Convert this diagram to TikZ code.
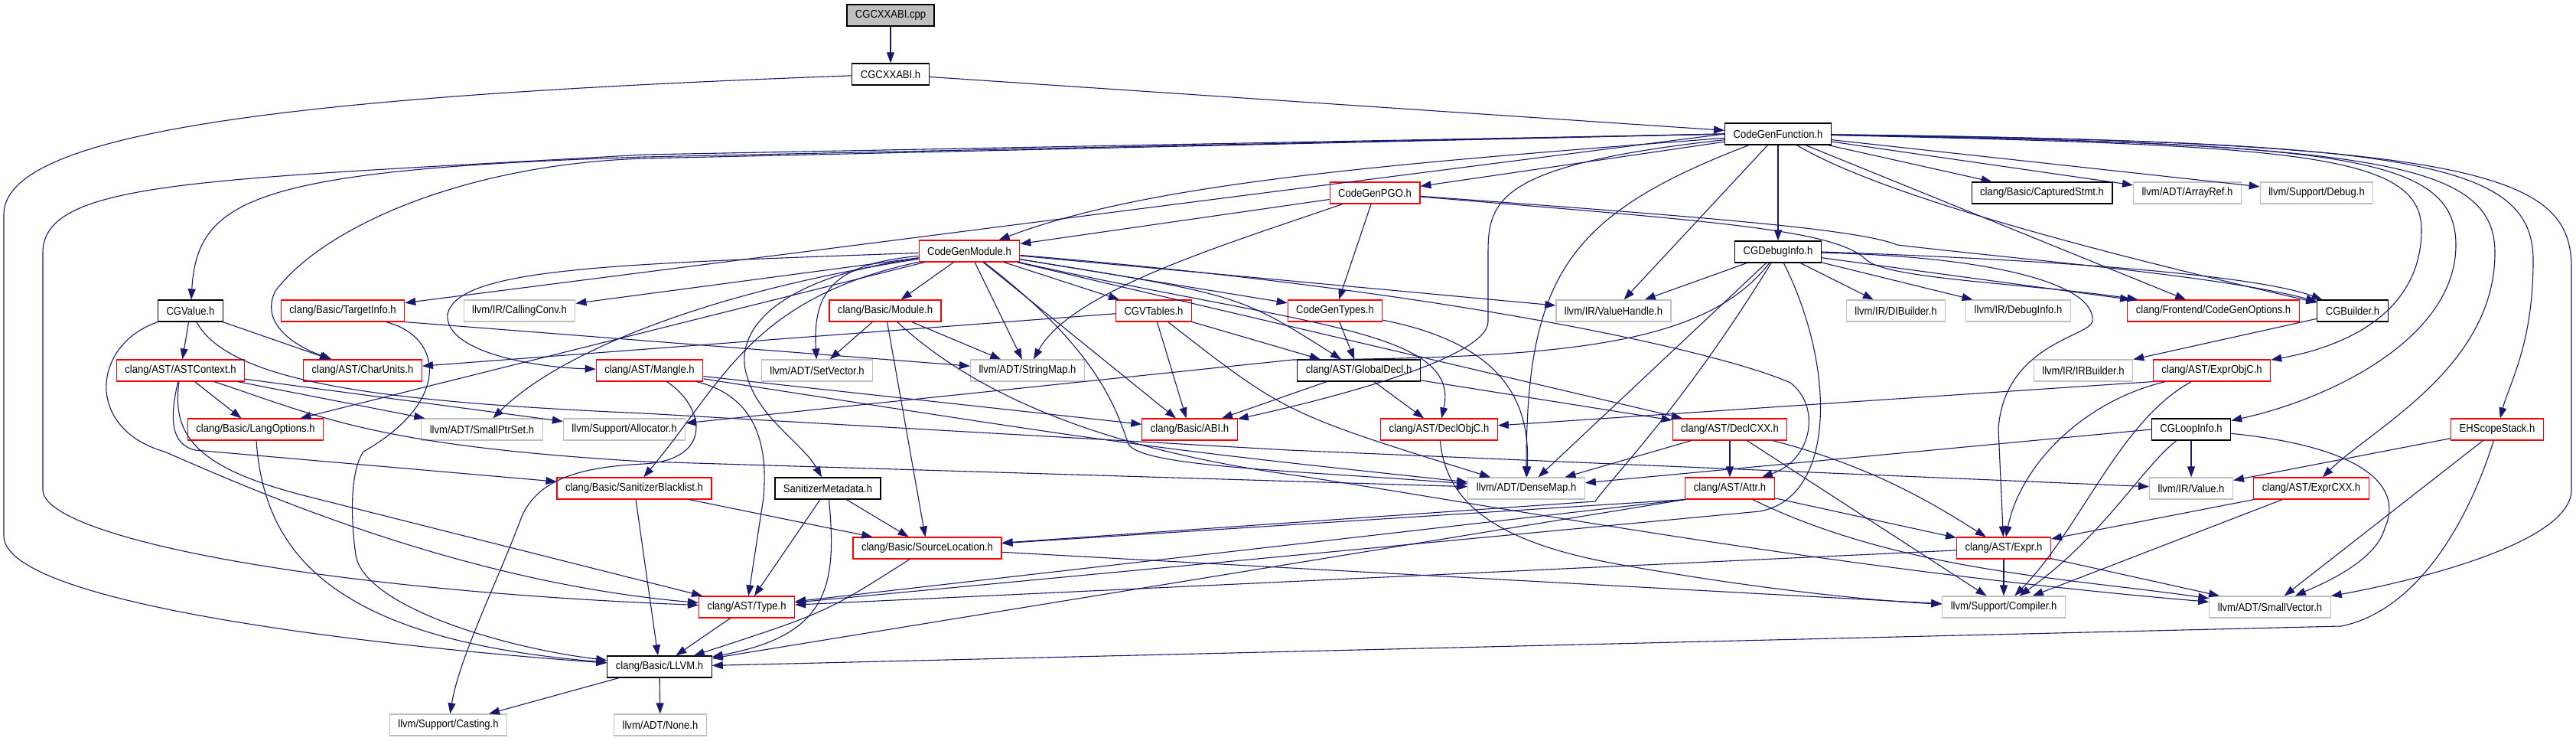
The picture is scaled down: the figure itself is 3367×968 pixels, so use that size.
\documentclass[tikz,border=0pt]{standalone}
\usepackage{fontspec}
\setmainfont{Liberation Sans}[FakeStretch=0.9]
\usetikzlibrary{arrows.meta}

\definecolor{edgeblue}{HTML}{191970}
\definecolor{boxred}{HTML}{FF0000}
\definecolor{boxgray}{HTML}{BFBFBF}

\begin{document}
\begin{tikzpicture}[x=1pt, y=-1pt,
    hdr/.style={draw, line width=1.2pt, fill=white, inner xsep=11pt, inner ysep=0pt,
        minimum height=28pt, font=\fontsize{14.5}{16}\selectfont},
    doc/.style={hdr, draw=black},
    trunc/.style={hdr, draw=boxred},
    ext/.style={hdr, draw=boxgray},
    dep/.style={draw=edgeblue, line width=1.1pt, -{Triangle[length=14pt, width=10pt]}}]

    % Page size and background
    \fill[white] (0,0) rectangle (3367,968);
    \useasboundingbox (0,0) rectangle (3367,968);

    % Source file and the first headers
    \node[doc, fill=boxgray] (cpp) at (1164,20) {CGCXXABI.cpp};
    \node[doc] (abih) at (1164,97) {CGCXXABI.h};
    \node[doc] (cgf) at (2324,175) {CodeGenFunction.h};

    % Headers of CodeGenFunction.h
    \node[trunc] (pgo) at (1797,252) {CodeGenPGO.h};
    \node[doc] (capt) at (2669,252) {clang/Basic/CapturedStmt.h};
    \node[ext] (aref) at (2859,252) {llvm/ADT/ArrayRef.h};
    \node[ext] (dbg) at (3028,252) {llvm/Support/Debug.h};
    \node[trunc] (cgm) at (1267,328) {CodeGenModule.h};
    \node[doc] (cgdi) at (2324,329) {CGDebugInfo.h};

    % Row 5
    \node[doc] (cgval) at (249,406) {CGValue.h};
    \node[trunc] (tinfo) at (448,406) {clang/Basic/TargetInfo.h};
    \node[ext] (cconv) at (679,406) {llvm/IR/CallingConv.h};
    \node[trunc] (bmod) at (1157,406) {clang/Basic/Module.h};
    \node[trunc] (vtbl) at (1508,406) {CGVTables.h};
    \node[trunc] (types) at (1745,406) {CodeGenTypes.h};
    \node[ext] (vh) at (2109,406) {llvm/IR/ValueHandle.h};
    \node[ext] (dib) at (2478,406) {llvm/IR/DIBuilder.h};
    \node[ext] (dinfo) at (2638,406) {llvm/IR/DebugInfo.h};
    \node[trunc] (cgopt) at (2893,406) {clang/Frontend/CodeGenOptions.h};
    \node[doc] (bld) at (3075,406) {CGBuilder.h};

    % Row 6
    \node[trunc] (astctx) at (236,484) {clang/AST/ASTContext.h};
    \node[trunc] (cu) at (474,484) {clang/AST/CharUnits.h};
    \node[trunc] (mangle) at (849,484) {clang/AST/Mangle.h};
    \node[ext] (setv) at (1068,484) {llvm/ADT/SetVector.h};
    \node[ext] (smap) at (1343,484) {llvm/ADT/StringMap.h};
    \node[doc] (gdecl) at (1776,484) {clang/AST/GlobalDecl.h};
    \node[ext] (irb) at (2723,484) {llvm/IR/IRBuilder.h};
    \node[trunc] (eobjc) at (2891,484) {clang/AST/ExprObjC.h};

    % Row 7
    \node[trunc] (lopt) at (334,561) {clang/Basic/LangOptions.h};
    \node[ext] (sps) at (630,561) {llvm/ADT/SmallPtrSet.h};
    \node[ext] (alloc) at (816,561) {llvm/Support/Allocator.h};
    \node[trunc] (abi) at (1555,561) {clang/Basic/ABI.h};
    \node[trunc] (dobjc) at (1881,561) {clang/AST/DeclObjC.h};
    \node[trunc] (dcxx) at (2261,561) {clang/AST/DeclCXX.h};
    \node[doc] (loop) at (2864,561) {CGLoopInfo.h};
    \node[trunc] (ehs) at (3264,561) {EHScopeStack.h};

    % Row 8
    \node[trunc] (sbl) at (829,638) {clang/Basic/SanitizerBlacklist.h};
    \node[doc] (smd) at (1082,638) {SanitizerMetadata.h};
    \node[ext] (dmap) at (1995,638) {llvm/ADT/DenseMap.h};
    \node[trunc] (attr) at (2261,638) {clang/AST/Attr.h};
    \node[ext] (val) at (2864,638) {llvm/IR/Value.h};
    \node[trunc] (ecxx) at (3021,638) {clang/AST/ExprCXX.h};

    % Bottom rows
    \node[trunc] (sloc) at (1212,716) {clang/Basic/SourceLocation.h};
    \node[trunc] (expr) at (2619,716) {clang/AST/Expr.h};
    \node[trunc] (type) at (976,793) {clang/AST/Type.h};
    \node[ext] (comp) at (2619,793) {llvm/Support/Compiler.h};
    \node[ext] (svec) at (2967,793) {llvm/ADT/SmallVector.h};
    \node[doc] (llvmh) at (862,871) {clang/Basic/LLVM.h};
    \node[ext] (cast) at (586,947) {llvm/Support/Casting.h};
    \node[ext] (none) at (863,947) {llvm/ADT/None.h};

    % CGCXXABI files
    \draw[dep] (cpp) -- (abih);
    \draw[dep] (abih) -- (cgf);
    \draw[dep] (abih) .. controls (400,125) and (5,170) .. (5,280) -- (5,700) .. controls (5,790) and (500,845) .. (llvmh);

    % CodeGenFunction.h, to the left
    \draw[dep] (cgf.west) -- (842,205) .. controls (330,222) and (258,260) .. (cgval);
    \draw[dep] (cgf.west) -- (842,202) .. controls (270,235) and (56,235) .. (56,330) -- (56,640) .. controls (56,700) and (400,770) .. (type);
    \draw[dep] (cgf.west) -- (842,207) .. controls (600,215) and (420,300) .. (360,380) .. controls (340,420) and (380,450) .. (cu);
    \draw[dep] (cgf.west) -- (tinfo);
    \draw[dep] (cgf) .. controls (1800,215) and (1500,240) .. (cgm);
    \draw[dep] (cgf) -- (pgo);
    \draw[dep] (cgf) .. controls (1960,215) and (1945,260) .. (1945,330) -- (1945,420) .. controls (1945,470) and (1720,525) .. (abi);
    \draw[dep] (cgf) .. controls (2050,280) and (1995,360) .. (dmap);
    \draw[dep] (cgf) -- (vh);
    \draw[dep] (cgf) -- (cgdi);

    % CodeGenFunction.h, to the right
    \draw[dep] (cgf) -- (capt);
    \draw[dep] (cgf) -- (aref);
    \draw[dep] (cgf) -- (dbg);
    \draw[dep] (cgf) .. controls (2450,250) and (2700,320) .. (bld);
    \draw[dep] (cgf) -- (cgopt);
    \draw[dep] (cgf) .. controls (3000,190) and (3165,200) .. (3165,300) .. controls (3165,400) and (3080,450) .. (eobjc);
    \draw[dep] (cgf) .. controls (3050,188) and (3210,200) .. (3210,320) .. controls (3210,440) and (3050,520) .. (loop);
    \draw[dep] (cgf) .. controls (3100,188) and (3261,210) .. (3261,330) .. controls (3261,480) and (3100,560) .. (ecxx);
    \draw[dep] (cgf) .. controls (3150,185) and (3311,210) .. (3311,340) .. controls (3311,450) and (3280,500) .. (ehs);
    \draw[dep] (cgf) .. controls (3250,185) and (3361,230) .. (3361,350) -- (3361,640) .. controls (3361,710) and (3150,760) .. (svec);

    % CodeGenPGO.h
    \draw[dep] (pgo) -- (cgm);
    \draw[dep] (pgo) -- (types);
    \draw[dep] (pgo) .. controls (1600,320) and (1400,380) .. (smap);
    \draw[dep] (pgo) .. controls (2250,290) and (2400,300) .. (2440,340) .. controls (2470,365) and (2650,370) .. (cgopt);
    \draw[dep] (pgo) .. controls (2250,285) and (2430,300) .. (2480,320) .. controls (2650,340) and (2900,360) .. (bld);

    % CodeGenModule.h
    \draw[dep] (cgm) -- (cconv);
    \draw[dep] (cgm) .. controls (800,345) and (600,350) .. (585,410) .. controls (580,460) and (700,480) .. (mangle);
    \draw[dep] (cgm) -- (lopt);
    \draw[dep] (cgm) .. controls (900,385) and (720,470) .. (sps);
    \draw[dep] (cgm) -- (bmod);
    \draw[dep] (cgm) .. controls (1090,345) and (1062,380) .. (setv);
    \draw[dep] (cgm) -- (smap);
    \draw[dep] (cgm) -- (vtbl);
    \draw[dep] (cgm) -- (types);
    \draw[dep] (cgm) -- (abi);
    \draw[dep] (cgm) .. controls (1440,460) and (1460,540) .. (1475,580) .. controls (1490,610) and (1700,615) .. (dmap);
    \draw[dep] (cgm) .. controls (1620,385) .. (gdecl);
    \draw[dep] (cgm) .. controls (1700,425) and (1910,430) .. (dobjc);
    \draw[dep] (cgm) -- (dcxx);
    \draw[dep] (cgm) -- (vh);
    \draw[dep] (cgm) .. controls (1900,380) and (2250,460) .. (2340,500) .. controls (2380,530) and (2370,600) .. (attr);
    \draw[dep] (cgm) .. controls (1000,365) and (960,440) .. (976,490) .. controls (990,545) and (1050,580) .. (smd);
    \draw[dep] (cgm) .. controls (980,390) and (945,500) .. (sbl);

    % CGDebugInfo.h
    \draw[dep] (cgdi) -- (vh);
    \draw[dep] (cgdi) -- (dib);
    \draw[dep] (cgdi) -- (dinfo);
    \draw[dep] (cgdi) -- (cgopt);
    \draw[dep] (cgdi.east) .. controls (2700,340) and (2950,360) .. (bld);
    \draw[dep] (cgdi) -- (dmap);
    \draw[dep] (cgdi) .. controls (2200,530) and (2110,620) .. (2085,655) -- (sloc);
    \draw[dep] (cgdi) .. controls (2400,480) and (2400,650) .. (2300,668) -- (type);
    \draw[dep] (cgdi) .. controls (2600,335) and (2740,370) .. (2735,420) .. controls (2730,440) and (2620,450) .. (2612,560) -- (expr);
    \draw[dep] (cgdi) .. controls (2230,450) and (2050,468) .. (1690,470) -- (alloc);

    % CGValue.h and clang/AST/ASTContext.h
    \draw[dep] (cgval) -- (astctx);
    \draw[dep] (cgval) -- (cu);
    \draw[dep] (cgval) .. controls (300,500) and (500,525) .. (842,540) -- (1684,588) -- (val);
    \draw[dep] (cgval) .. controls (120,450) and (110,560) .. (215,590) .. controls (330,640) and (600,760) .. (type);
    \draw[dep] (astctx) -- (lopt);
    \draw[dep] (astctx) -- (sps);
    \draw[dep] (astctx) -- (alloc);
    \draw[dep] (astctx) .. controls (222,545) and (222,580) .. (255,588) -- (sbl);
    \draw[dep] (astctx) .. controls (225,565) and (250,610) .. (400,648) -- (type);
    \draw[dep] (astctx) .. controls (420,545) and (490,582) .. (842,603) -- (dmap);

    % TargetInfo.h, LangOptions.h, Mangle.h
    \draw[dep] (tinfo.south east) -- (smap);
    \draw[dep] (tinfo) .. controls (580,440) and (590,525) .. (475,590) .. controls (455,620) and (460,690) .. (465,725) .. controls (475,790) and (650,845) .. (llvmh);
    \draw[dep] (lopt) .. controls (345,720) and (430,835) .. (llvmh);
    \draw[dep] (mangle) .. controls (1000,520) and (1002,600) .. (998,650) -- (type);
    \draw[dep] (mangle) -- (abi);
    \draw[dep] (mangle) .. controls (1500,585) .. (dmap);
    \draw[dep] (mangle) .. controls (920,530) and (935,600) .. (842,606) .. controls (760,610) and (700,625) .. (680,680) .. controls (650,760) and (600,860) .. (cast);

    % clang/Basic/Module.h, CGVTables.h, CodeGenTypes.h, GlobalDecl.h
    \draw[dep] (bmod) -- (setv);
    \draw[dep] (bmod) -- (smap);
    \draw[dep] (bmod) -- (sloc);
    \draw[dep] (bmod) .. controls (1280,520) and (1450,588) .. (1700,622) .. controls (1950,660) and (2400,745) .. (svec);
    \draw[dep] (vtbl) -- (cu);
    \draw[dep] (vtbl) -- (gdecl);
    \draw[dep] (vtbl) -- (abi);
    \draw[dep] (vtbl) .. controls (1680,540) .. (dmap);
    \draw[dep] (types) -- (gdecl);
    \draw[dep] (types) .. controls (1970,450) and (2000,530) .. (dmap);
    \draw[dep] (gdecl) -- (dcxx);
    \draw[dep] (gdecl) -- (dobjc);
    \draw[dep] (gdecl) -- (abi);

    % Declarations and attributes
    \draw[dep] (dobjc) .. controls (1890,660) and (1960,710) .. (2120,738) .. controls (2300,770) and (2450,785) .. (comp);
    \draw[dep] (dcxx) -- (attr);
    \draw[dep] (dcxx) -- (dmap);
    \draw[dep] (dcxx) .. controls (2450,610) and (2530,660) .. (expr);
    \draw[dep] (dcxx) -- (comp);
    \draw[dep] (attr) -- (expr);
    \draw[dep] (attr.south west) -- (sloc);
    \draw[dep] (attr.south west) -- (type);
    \draw[dep] (attr.south west) -- (llvmh);
    \draw[dep] (attr) .. controls (2480,745) and (2700,755) .. (svec);

    % Expressions
    \draw[dep] (expr) -- (type);
    \draw[dep] (expr) -- (comp);
    \draw[dep] (expr) -- (svec);
    \draw[dep] (ecxx) -- (expr);
    \draw[dep] (ecxx) -- (comp);
    \draw[dep] (eobjc.south west) -- (dobjc);
    \draw[dep] (eobjc) .. controls (2720,525) and (2640,610) .. (expr);
    \draw[dep] (eobjc) .. controls (2770,550) and (2720,690) .. (comp);

    % CGLoopInfo.h, EHScopeStack.h, CGBuilder.h
    \draw[dep] (loop) -- (val);
    \draw[dep] (loop.west) -- (dmap);
    \draw[dep] (loop) .. controls (3100,585) and (3140,640) .. (3117,690) .. controls (3105,735) and (3030,765) .. (svec);
    \draw[dep] (loop) .. controls (2800,610) and (2750,700) .. (comp);
    \draw[dep] (ehs) -- (val);
    \draw[dep] (ehs) -- (svec);
    \draw[dep] (ehs) .. controls (3220,700) and (3150,800) .. (3060,818) -- (llvmh);
    \draw[dep] (bld) -- (irb);

    % Sanitizers, source locations and types
    \draw[dep] (sbl) -- (sloc);
    \draw[dep] (sbl) -- (llvmh);
    \draw[dep] (smd) -- (type);
    \draw[dep] (smd) -- (sloc);
    \draw[dep] (smd) .. controls (1095,770) and (1080,830) .. (llvmh);
    \draw[dep] (sloc) .. controls (1080,800) .. (llvmh);
    \draw[dep] (sloc) -- (comp);
    \draw[dep] (type) -- (llvmh);

    % clang/Basic/LLVM.h
    \draw[dep] (llvmh) -- (cast);
    \draw[dep] (llvmh) -- (none);

\end{tikzpicture}
\end{document}
